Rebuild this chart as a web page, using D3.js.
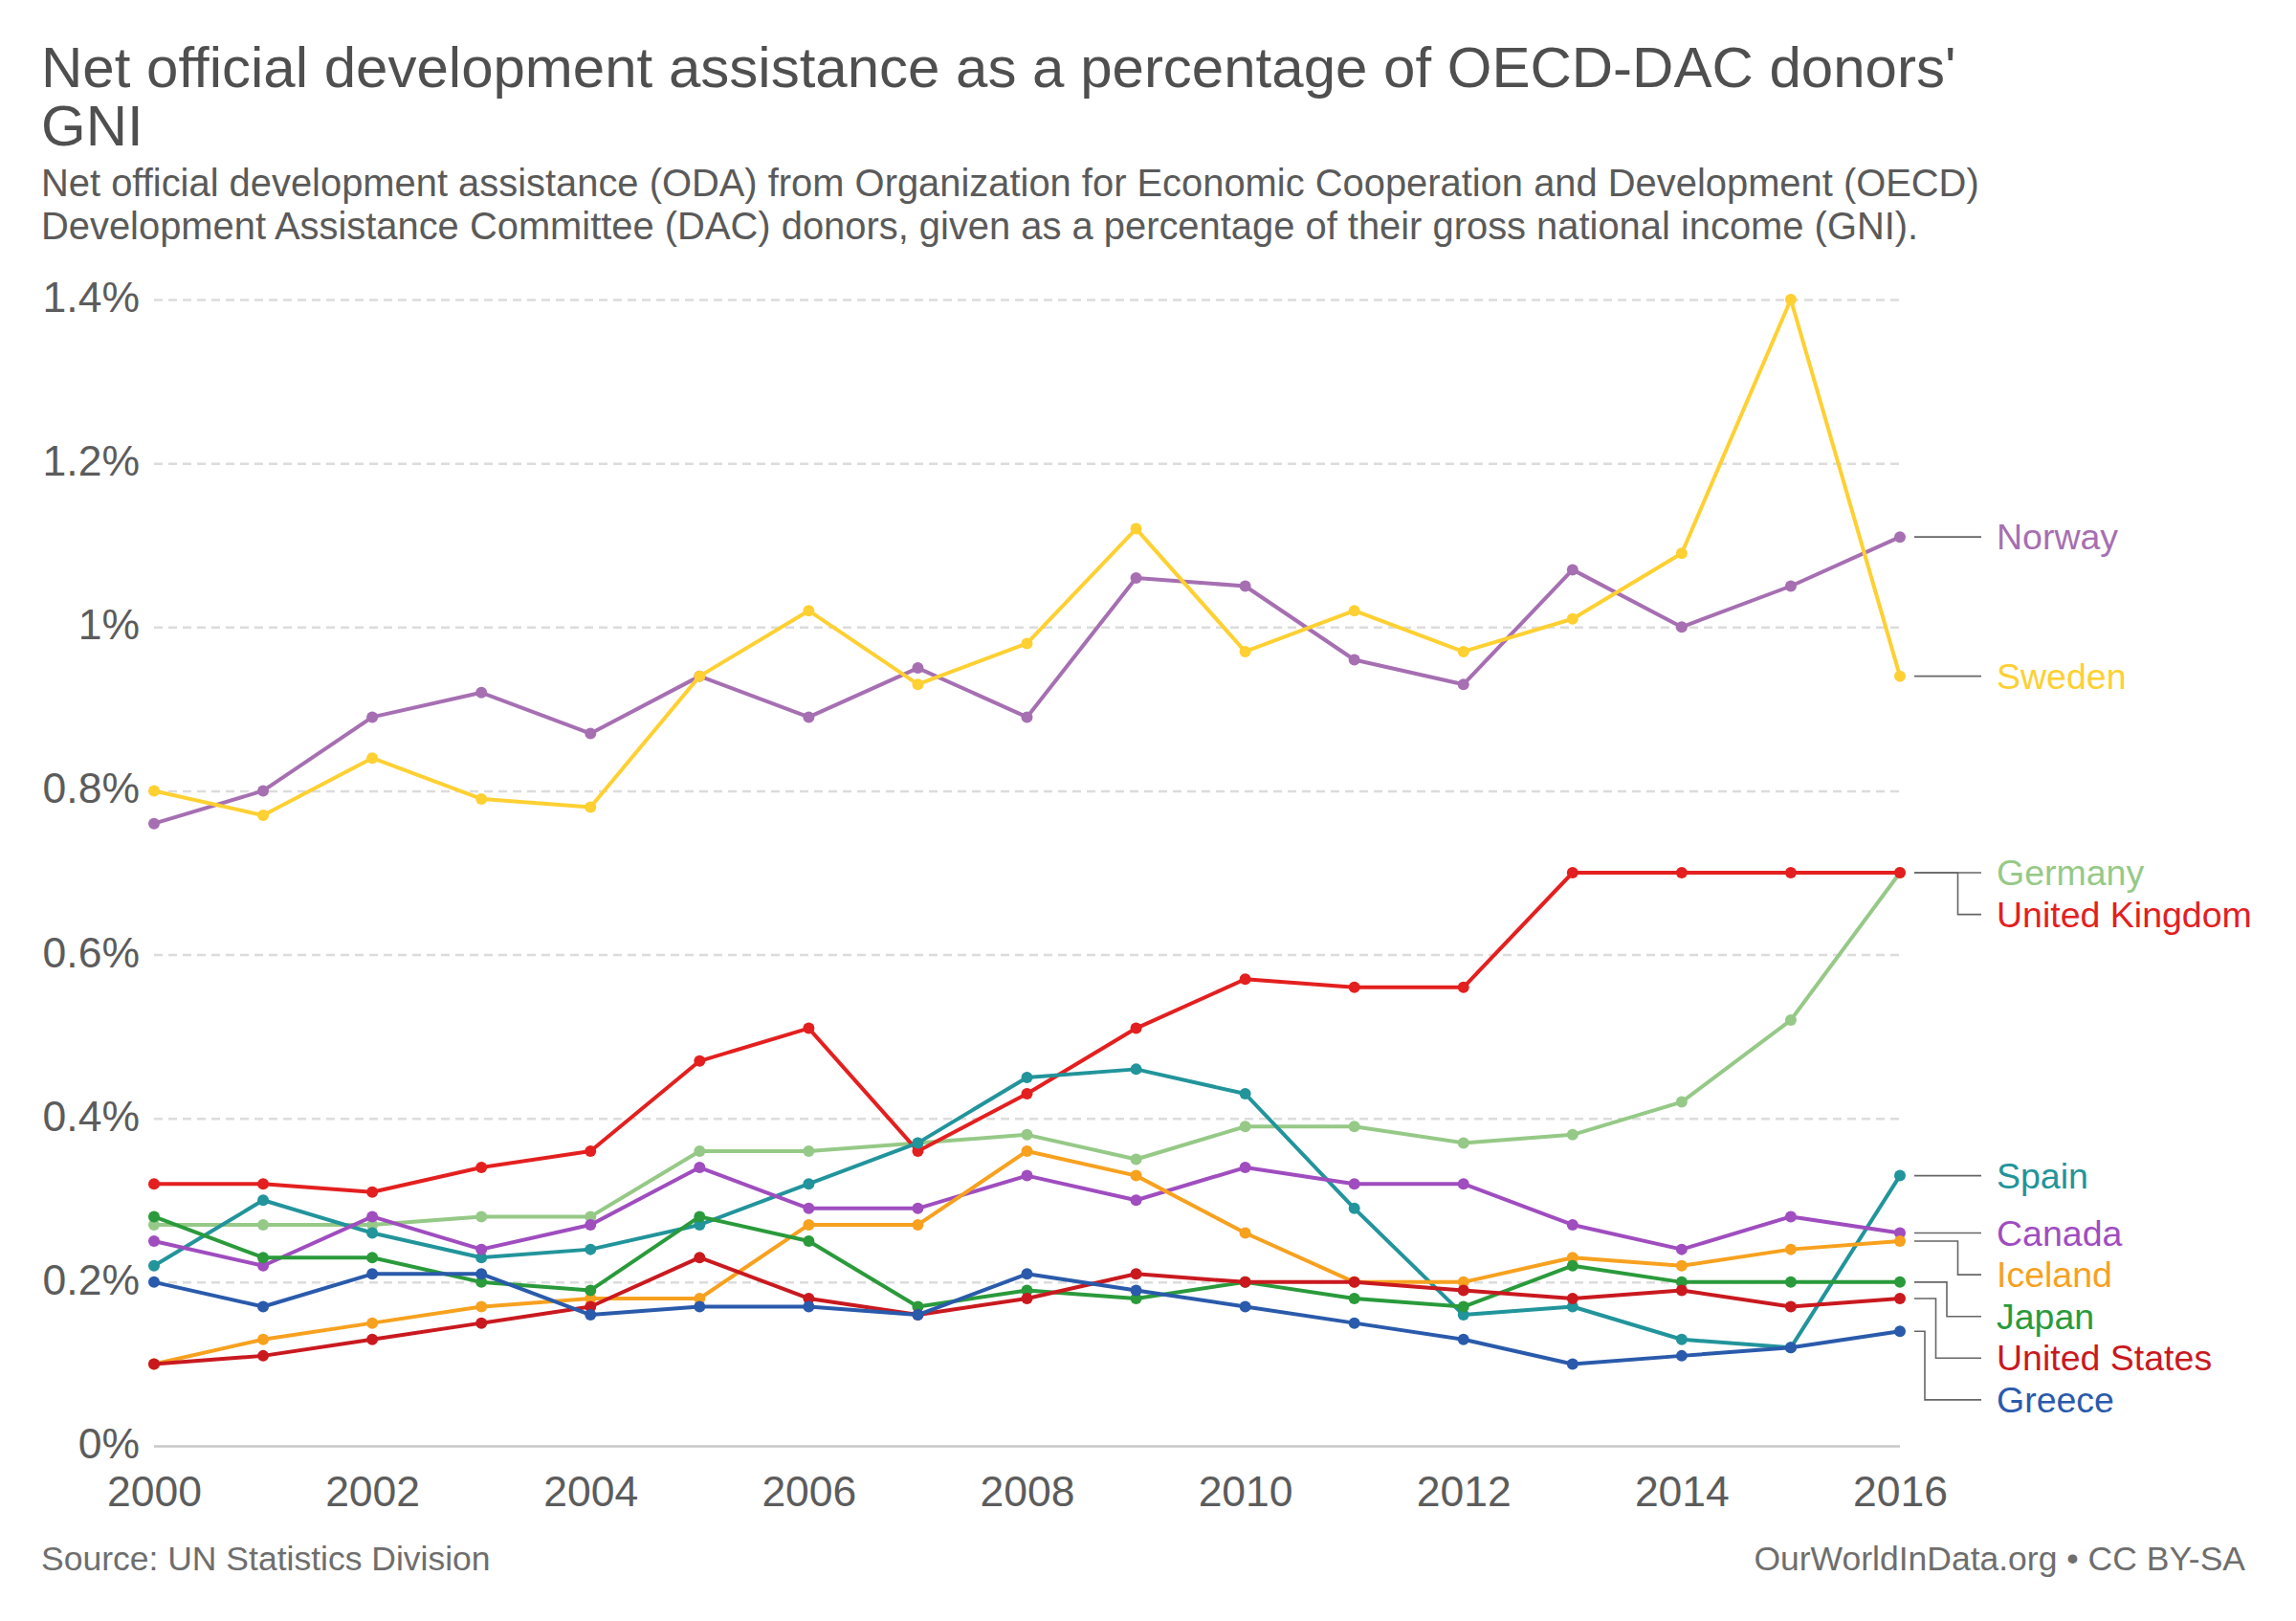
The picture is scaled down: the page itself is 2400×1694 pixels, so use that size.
<!DOCTYPE html>
<html lang="en">
<head>
<meta charset="utf-8">
<title>Net official development assistance as a percentage of OECD-DAC donors' GNI</title>
<script src="https://cdn.jsdelivr.net/npm/d3@7/dist/d3.min.js"></script>
<style>
  body { margin: 0; background: #fff; }
  svg { display: block; font-family: "Liberation Sans", Arial, Helvetica, sans-serif; }
</style>
</head>
<body>
<svg id="chart" width="2400" height="1694"></svg>
<script>
// data (percent of GNI)
var years = [2000, 2001, 2002, 2003, 2004, 2005, 2006, 2007, 2008, 2009, 2010, 2011, 2012, 2013, 2014, 2015, 2016];
var yTicks = [0, 0.2, 0.4, 0.6, 0.8, 1, 1.2, 1.4];
var xTicks = [2000, 2002, 2004, 2006, 2008, 2010, 2012, 2014, 2016];

var countries = ['Norway', 'Sweden', 'Germany', 'United Kingdom', 'Spain', 'Canada', 'Iceland', 'Japan', 'United States', 'Greece'];
var colors = ['#a66fb2', '#fed032', '#96c987', '#e3201f', '#22949b', '#9f4dbf', '#f7a11f', '#2a9a3b', '#c9191f', '#2a5aab'];

var norway   = [0.76, 0.80, 0.89, 0.92, 0.87, 0.94, 0.89, 0.95, 0.89, 1.06, 1.05, 0.96, 0.93, 1.07, 1.00, 1.05, 1.11];
var sweden   = [0.80, 0.77, 0.84, 0.79, 0.78, 0.94, 1.02, 0.93, 0.98, 1.12, 0.97, 1.02, 0.97, 1.01, 1.09, 1.40, 0.94];
var germany  = [0.27, 0.27, 0.27, 0.28, 0.28, 0.36, 0.36, 0.37, 0.38, 0.35, 0.39, 0.39, 0.37, 0.38, 0.42, 0.52, 0.70];
var uk       = [0.32, 0.32, 0.31, 0.34, 0.36, 0.47, 0.51, 0.36, 0.43, 0.51, 0.57, 0.56, 0.56, 0.70, 0.70, 0.70, 0.70];
var spain    = [0.22, 0.30, 0.26, 0.23, 0.24, 0.27, 0.32, 0.37, 0.45, 0.46, 0.43, 0.29, 0.16, 0.17, 0.13, 0.12, 0.33];
var canada   = [0.25, 0.22, 0.28, 0.24, 0.27, 0.34, 0.29, 0.29, 0.33, 0.30, 0.34, 0.32, 0.32, 0.27, 0.24, 0.28, 0.26];
var iceland  = [0.10, 0.13, 0.15, 0.17, 0.18, 0.18, 0.27, 0.27, 0.36, 0.33, 0.26, 0.20, 0.20, 0.23, 0.22, 0.24, 0.25];
var japan    = [0.28, 0.23, 0.23, 0.20, 0.19, 0.28, 0.25, 0.17, 0.19, 0.18, 0.20, 0.18, 0.17, 0.22, 0.20, 0.20, 0.20];
var usa      = [0.10, 0.11, 0.13, 0.15, 0.17, 0.23, 0.18, 0.16, 0.18, 0.21, 0.20, 0.20, 0.19, 0.18, 0.19, 0.17, 0.18];
var greece   = [0.20, 0.17, 0.21, 0.21, 0.16, 0.17, 0.17, 0.16, 0.21, 0.19, 0.17, 0.15, 0.13, 0.10, 0.11, 0.12, 0.14];

var values = [norway, sweden, germany, uk, spain, canada, iceland, japan, usa, greece];

var series = countries.map(function(name, i) {
    return { name: name, color: colors[i], values: values[i] };
});

var svg = d3.select('#chart');

// header
var title = svg.append('g').attr('fill', '#4f4f4f').attr('font-size', 60);
title.append('text').attr('x', 43).attr('y', 91)
    .text("Net official development assistance as a percentage of OECD-DAC donors'");
title.append('text').attr('x', 43).attr('y', 152).text('GNI');

var sub = svg.append('g').attr('fill', '#5a5a5a').attr('font-size', 39.9);
sub.append('text').attr('x', 43).attr('y', 205)
    .text('Net official development assistance (ODA) from Organization for Economic Cooperation and Development (OECD)');
sub.append('text').attr('x', 43).attr('y', 250)
    .text('Development Assistance Committee (DAC) donors, given as a percentage of their gross national income (GNI).');

// scales
var x = d3.scaleLinear().domain([2000, 2016]).range([161, 1986]);
var y = d3.scaleLinear().domain([0, 1.4]).range([1511, 313]);

var fmt = function(v) { return (+v.toFixed(1)) + '%'; };

// y grid + labels
var yAxis = svg.append('g')
    .attr('transform', 'translate(161,0)')
    .call(d3.axisLeft(y).tickValues(yTicks).tickFormat(fmt).tickSize(-(1986 - 161)).tickPadding(15));
yAxis.select('.domain').remove();
yAxis.selectAll('.tick line')
    .attr('stroke-width', 2.5)
    .attr('stroke-dasharray', function(d) { return d === 0 ? null : '9,6'; })
    .attr('stroke', function(d) { return d === 0 ? '#c8c8c8' : '#dcdcdc'; });
yAxis.selectAll('.tick text')
    .attr('fill', '#5c5c5c')
    .attr('font-size', 44.5)
    .attr('font-family', '"Liberation Sans", Arial, sans-serif')
    .attr('dy', '0.28em');

// x labels
var xAxis = svg.append('g')
    .attr('transform', 'translate(0,1511)')
    .call(d3.axisBottom(x).tickValues(xTicks).tickFormat(d3.format('d')).tickSize(0).tickPadding(31));
xAxis.select('.domain').remove();
xAxis.selectAll('.tick text')
    .attr('fill', '#5c5c5c')
    .attr('font-size', 44.5)
    .attr('font-family', '"Liberation Sans", Arial, sans-serif');

// lines
var line = d3.line()
    .x(function(d, i) { return x(years[i]); })
    .y(function(d) { return y(d); });

var plot = svg.append('g');
series.forEach(function(s) {
    var g = plot.append('g');
    g.append('path')
        .attr('d', line(s.values))
        .attr('fill', 'none')
        .attr('stroke', s.color)
        .attr('stroke-width', 4)
        .attr('stroke-linejoin', 'round');
    g.selectAll('circle')
        .data(s.values)
        .enter().append('circle')
        .attr('cx', function(d, i) { return x(years[i]); })
        .attr('cy', function(d) { return y(d); })
        .attr('r', 6)
        .attr('fill', s.color);
});

// end labels, pushed down where they would overlap
var spacing = 43.6;
var labels = series.map(function(s, i) {
    var last = s.values[s.values.length - 1];
    return { name: s.name, color: s.color, order: i, dotY: y(last), y: y(last) };
});
labels.sort(function(a, b) { return (a.dotY - b.dotY) || (a.order - b.order); });
for (var i = 1; i < labels.length; i++) {
    if (labels[i].y < labels[i - 1].y + spacing) {
        labels[i].y = labels[i - 1].y + spacing;
        labels[i].moved = true;
    }
}
// stagger elbows of moved labels inside each cluster
var clusterStart = 0;
for (var i = 0; i < labels.length; i++) {
    if (!labels[i].moved) { clusterStart = i; labels[i].rank = 0; continue; }
    labels[i].rank = i - clusterStart;
}
var x0 = 2001, x1 = 2071, lx = 2087;
var leg = svg.append('g');
labels.forEach(function(l) {
    var d;
    if (l.moved) {
        var n = 0;
        labels.forEach(function(o) { if (o.moved && Math.abs(o.y - l.y) < 400) n++; });
        var elbow = n > 1 ? 2058 - l.rank * 11.5 : 2036;
        d = 'M' + x0 + ',' + l.dotY + 'H' + elbow + 'V' + l.y + 'H' + x1;
    } else {
        d = 'M' + x0 + ',' + l.dotY + 'H' + x1;
    }
    leg.append('path')
        .attr('d', d)
        .attr('fill', 'none')
        .attr('stroke', '#666')
        .attr('stroke-width', 1.6);
    leg.append('text')
        .attr('x', lx)
        .attr('y', l.y)
        .attr('dy', '0.35em')
        .attr('font-size', 37.5)
        .attr('fill', l.color)
        .text(l.name);
});

// footer
svg.append('text').attr('x', 43).attr('y', 1641)
    .attr('font-size', 35.5).attr('fill', '#6e6e6e')
    .text('Source: UN Statistics Division');
svg.append('text').attr('x', 2347).attr('y', 1641)
    .attr('text-anchor', 'end')
    .attr('font-size', 35.5).attr('fill', '#6e6e6e')
    .text('OurWorldInData.org \u2022 CC BY-SA');
</script>
</body>
</html>
